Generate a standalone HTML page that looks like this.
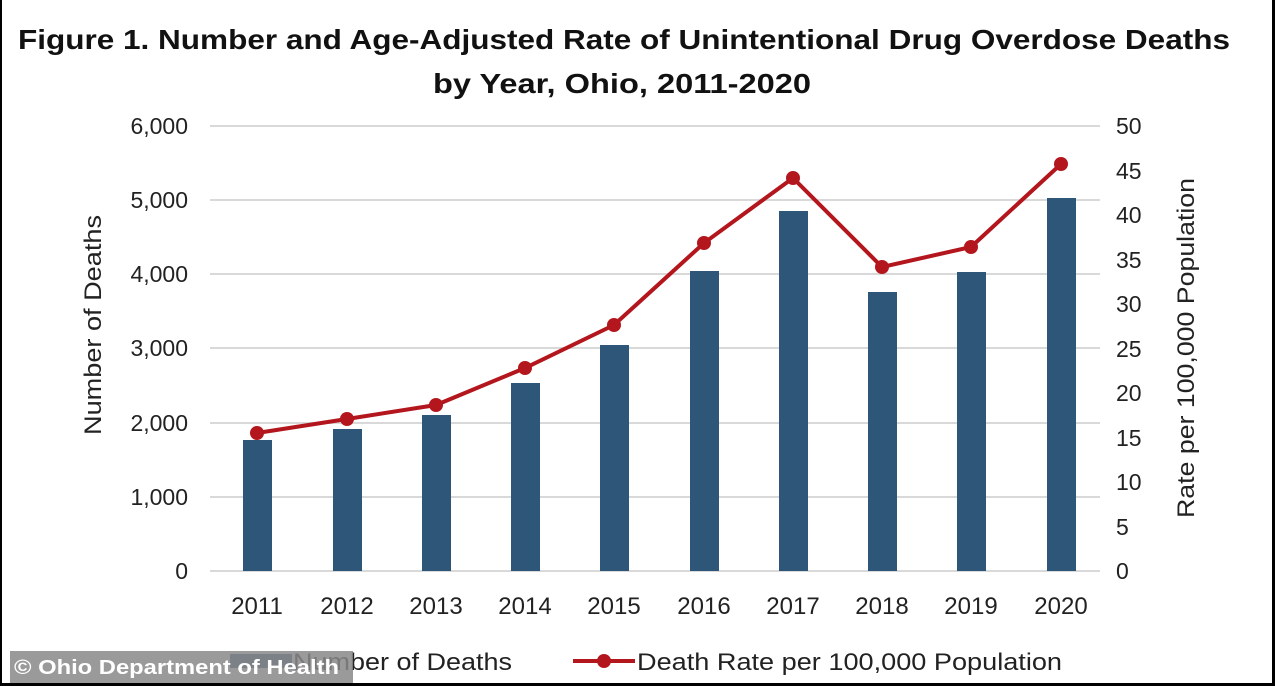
<!DOCTYPE html>
<html><head><style>
html,body{margin:0;padding:0;background:#fff;}
body{width:1275px;height:686px;overflow:hidden;position:relative;font-family:"Liberation Sans",sans-serif;}
</style></head><body>
<svg width="1275" height="686" viewBox="0 0 1275 686" xmlns="http://www.w3.org/2000/svg" style="position:absolute;left:0;top:0">
<rect x="0" y="0" width="1275" height="686" fill="#fff"/>
<rect x="0" y="0" width="2" height="686" fill="#000"/>
<rect x="1272" y="0" width="3" height="686" fill="#000"/>
<rect x="0" y="683" width="1275" height="3" fill="#000"/>
<g font-family="Liberation Sans, sans-serif" font-weight="bold" font-size="28" fill="#111">
<text x="18" y="49" textLength="1212" lengthAdjust="spacingAndGlyphs">Figure 1. Number and Age-Adjusted Rate of Unintentional Drug Overdose Deaths</text>
<text x="433" y="93" textLength="378" lengthAdjust="spacingAndGlyphs">by Year, Ohio, 2011-2020</text>
</g>
<g stroke="#d9d9d9" stroke-width="2">
<line x1="210" y1="126" x2="1100" y2="126"/>
<line x1="210" y1="200" x2="1100" y2="200"/>
<line x1="210" y1="274" x2="1100" y2="274"/>
<line x1="210" y1="348" x2="1100" y2="348"/>
<line x1="210" y1="423" x2="1100" y2="423"/>
<line x1="210" y1="497" x2="1100" y2="497"/>
<line x1="210" y1="571" x2="1100" y2="571"/>
</g>
<g font-size="23" fill="#222" text-anchor="end">
<text x="188" y="134">6,000</text><text x="188" y="208">5,000</text><text x="188" y="282">4,000</text>
<text x="188" y="356">3,000</text><text x="188" y="431">2,000</text><text x="188" y="505">1,000</text><text x="188" y="579">0</text>
</g>
<g font-size="23" fill="#222" text-anchor="start">
<text x="1116" y="134">50</text><text x="1116" y="179">45</text><text x="1116" y="223">40</text><text x="1116" y="268">35</text>
<text x="1116" y="312">30</text><text x="1116" y="357">25</text><text x="1116" y="401">20</text><text x="1116" y="446">15</text>
<text x="1116" y="490">10</text><text x="1116" y="535">5</text><text x="1116" y="579">0</text>
</g>
<text transform="translate(101,325) rotate(-90)" font-size="24" fill="#222" text-anchor="middle" textLength="220" lengthAdjust="spacingAndGlyphs">Number of Deaths</text>
<text transform="translate(1194,348) rotate(-90)" font-size="24" fill="#222" text-anchor="middle" textLength="340" lengthAdjust="spacingAndGlyphs">Rate per 100,000 Population</text>
<g fill="#2e5678">
<rect x="243" y="440" width="29" height="131"/>
<rect x="333" y="429" width="29" height="142"/>
<rect x="422" y="415" width="29" height="156"/>
<rect x="511" y="383" width="29" height="188"/>
<rect x="600" y="345" width="29" height="226"/>
<rect x="690" y="271" width="29" height="300"/>
<rect x="779" y="211" width="29" height="360"/>
<rect x="868" y="292" width="29" height="279"/>
<rect x="957" y="272" width="29" height="299"/>
<rect x="1047" y="198" width="29" height="373"/>
</g>
<polyline fill="none" stroke="#b3161c" stroke-width="4" points="257,433 347,419 436,405 525,368 614,325 704,243 793,178 882,267 971,247 1061,164"/>
<g fill="#b3161c">
<circle cx="257" cy="433" r="7"/><circle cx="347" cy="419" r="7"/><circle cx="436" cy="405" r="7"/>
<circle cx="525" cy="368" r="7"/><circle cx="614" cy="325" r="7"/><circle cx="704" cy="243" r="7"/>
<circle cx="793" cy="178" r="7"/><circle cx="882" cy="267" r="7"/><circle cx="971" cy="247" r="7"/><circle cx="1061" cy="164" r="7"/>
</g>
<g font-size="24" fill="#222" text-anchor="middle">
<text x="257" y="614">2011</text><text x="347" y="614">2012</text><text x="436" y="614">2013</text><text x="525" y="614">2014</text>
<text x="614" y="614">2015</text><text x="704" y="614">2016</text><text x="793" y="614">2017</text><text x="882" y="614">2018</text>
<text x="971" y="614">2019</text><text x="1061" y="614">2020</text>
</g>
<rect x="230" y="654" width="62" height="14" fill="#2e5678"/>
<text x="293" y="670" font-size="24" fill="#222" textLength="219" lengthAdjust="spacingAndGlyphs">Number of Deaths</text>
<line x1="573" y1="661" x2="635" y2="661" stroke="#b3161c" stroke-width="4"/>
<circle cx="604" cy="661" r="7" fill="#b3161c"/>
<text x="637" y="670" font-size="24" fill="#222" textLength="425" lengthAdjust="spacingAndGlyphs">Death Rate per 100,000 Population</text>
<rect x="10" y="651" width="343" height="32" fill="#888" fill-opacity="0.85"/>
<text x="14" y="674" font-size="20" font-weight="bold" fill="#fff" textLength="325" lengthAdjust="spacingAndGlyphs">© Ohio Department of Health</text>
</svg>
</body></html>
